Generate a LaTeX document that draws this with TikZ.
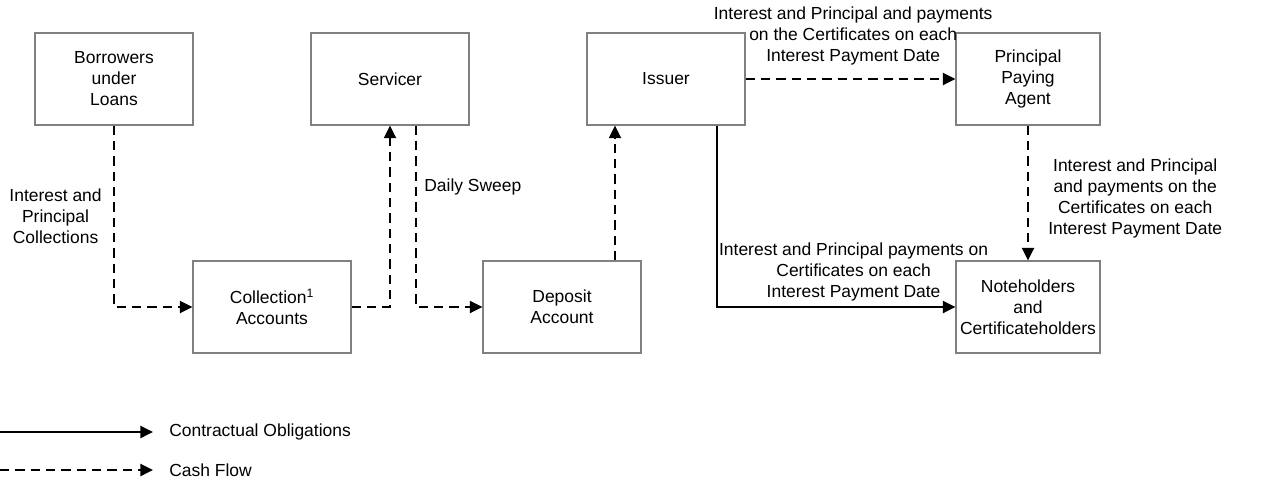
\documentclass[tikz,border=0pt]{standalone}
\usepackage{fontspec}
\setmainfont{Liberation Sans}
\usepackage{tikz}
\usetikzlibrary{arrows.meta,positioning,calc}

\begin{document}
\begin{tikzpicture}[x=0.75pt,y=-0.75pt,
    every node/.style={font=\fontsize{13.1}{15.75}\selectfont,align=center},
    party/.style={draw=black!50,line width=0.8pt,minimum width=118.5pt,minimum height=69pt,inner sep=0pt},
    smallparty/.style={party,minimum width=108pt},
    cash/.style={line width=1.8pt,dash pattern=on 7pt off 4.5pt,-{Triangle[length=9.5pt,width=9pt]}},
    oblig/.style={line width=1.8pt,-{Triangle[length=9.5pt,width=9pt]}}]
    \useasboundingbox (0,0) rectangle (1274,486);
    % boxes of the top row
    \node[party] (bor) at (114,79) {Borrowers\\under\\Loans};
    \node[party] (ser) at (390,79) {Servicer};
    \node[party] (iss) at (666,79) {Issuer};
    \node[smallparty] (ppa) at (1028,79) {Principal\\Paying\\Agent};
    % boxes of the bottom row
    \node[party] (col) at (272,307) {Collection\textsuperscript{1}\\Accounts};
    \node[party] (dep) at (562,307) {Deposit\\Account};
    \node[smallparty] (hold) at (1028,307) {Noteholders\\and\\Certificateholders};
    % cash flows
    \draw[cash] (bor.south) |- (col.west)
      node[pos=0.25,left=5pt] {Interest and\\Principal\\Collections};
    \draw[cash] (col.east) -| (ser.south);
    \draw[cash] ([xshift=19.5pt]ser.south) |- (dep.west)
      node[pos=0.17,right=2pt] {Daily Sweep};
    \draw[cash] ([xshift=39.75pt]dep.north) -- ([xshift=-38.25pt]iss.south);
    \draw[cash] (iss.east) -- (ppa.west)
      node[midway,above=6pt,xshift=2pt] {Interest and Principal and payments\\on the Certificates on each\\Interest Payment Date};
    \draw[cash] (ppa.south) -- (hold.north)
      node[midway,right=11pt,yshift=-4pt] {Interest and Principal\\and payments on the\\Certificates on each\\Interest Payment Date};
    % contractual obligation
    \draw[oblig] ([xshift=38.25pt]iss.south) |- (hold.west)
      node[pos=0.75,above=0pt,xshift=13pt] {Interest and Principal payments on\\Certificates on each\\Interest Payment Date};
    % legend
    \coordinate (ob1) at (0,432);
    \coordinate (ob2) at (153,432);
    \coordinate (cf1) at (0,470);
    \coordinate (cf2) at (153,470);
    \draw[oblig] (ob1) -- (ob2) node[right=8pt] {Contractual Obligations};
    \draw[cash] (cf1) -- (cf2) node[right=8pt] {Cash Flow};
\end{tikzpicture}
\end{document}
